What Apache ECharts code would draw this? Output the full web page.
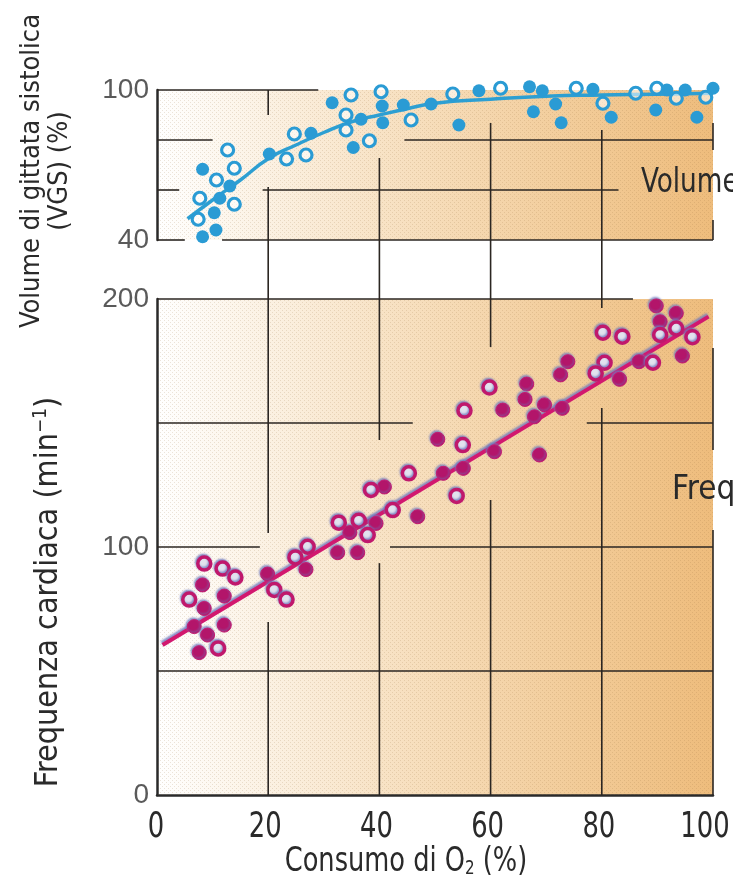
<!DOCTYPE html>
<html><head><meta charset="utf-8">
<script src="https://cdn.jsdelivr.net/npm/echarts@6/dist/echarts.min.js"></script>
<style>html,body{margin:0;padding:0;background:#fff}#c{width:733px;height:883px}</style>
</head><body><div id="c"></div>
<script>
// ---- data ----
const xTicks = [0, 20, 40, 60, 80, 100];
const vgsTicks = [40, 100];
const hrTicks = [0, 100, 200];

const vgsFilled = [[8.2,41.3],[10.6,44],[10.3,50.9],[11.3,56.7],[13.1,61.6],[8.2,68.3],[20.2,74.4],[27.7,82.7],[35.3,77],[36.7,88.3],[40.6,86.9],[40.5,93.6],[44.3,94],[31.5,94.9],[49.3,94.4],[54.3,86],[57.9,99.7],[67,101.3],[69.3,99.7],[71.7,94.4],[67.7,91.3],[72.7,86.9],[78.4,100.3],[81.7,89.1],[89.7,92],[91.7,100],[95,100],[97.1,89.1],[100,100.7]];
const vgsOpen = [[7.4,48.3],[13.9,54.3],[7.7,56.7],[10.7,64],[13.9,68.7],[12.7,76],[23.3,72.4],[26.8,74],[24.7,82.4],[38.2,79.7],[34,84],[34,90],[45.7,88],[34.9,98],[40.3,99.3],[53.2,98.4],[61.8,100.7],[75.4,100.7],[80.2,94.7],[86.1,98.7],[89.9,100.7],[93.4,96.7],[98.7,97.1]];
const vgsCurve = [[5.5,48.5],[10,56],[15,64],[20,72.5],[25,78],[30,83],[35,87.3],[40,90],[45,92.5],[50,94.7],[60,96.3],[70,97.5],[80,98],[90,98.3],[100,98.7]];

const hrFilled = [[89.8,197.2],[93.4,194.2],[90.5,190.8],[94.5,177],[86.7,174.7],[83.2,167.6],[73.9,174.7],[72.6,169.4],[66.5,165.7],[66.2,159.5],[69.7,157.3],[72.9,155.9],[67.9,152.5],[62.2,155.2],[50.5,143.4],[60.7,138.4],[68.8,137.1],[51.5,129.7],[55.1,131.7],[40.9,124.2],[46.9,112.2],[39.4,109.5],[34.7,105.8],[32.5,97.7],[36.1,97.7],[26.8,90.9],[19.9,89.1],[8.2,84.7],[12.1,80.2],[8.5,75.2],[6.7,67.9],[12.1,68.5],[9.1,64.5],[7.6,57.4]];
const hrOpen = [[93.4,188.1],[90.5,185.5],[96.3,184.6],[80.2,186.4],[83.7,184.8],[89.2,174.3],[80.5,174.3],[78.9,170],[59.8,164.3],[55.3,155],[55,141.1],[53.9,120.6],[45.3,129.7],[38.5,123],[42.4,114.9],[32.7,109.8],[36.3,110.6],[37.9,104.8],[27.1,100.1],[24.9,95.8],[8.5,93.3],[11.8,91.3],[14.1,87.7],[5.8,78.8],[11,59.1],[21.1,82.7],[23.3,78.8]];
const hrLine = [[1,60.5],[99.2,192.9]];

// ---- styling ----
const NARROW = '"Liberation Sans Narrow","DejaVu Sans Condensed","Roboto Condensed",sans-serif';
const WIDE = '"Liberation Sans","DejaVu Sans",sans-serif';
const BLUE = '#2a9bd4';
const MAG = '#b3156a';
const INK = '#2a2a2a';
const bgGrad = () => ({type:'linear',x:0,y:0,x2:1,y2:0,colorStops:[
  {offset:0,color:'#ffffff'},{offset:0.12,color:'#fdf7ee'},{offset:0.4,color:'#f8e3c6'},
  {offset:0.7,color:'#f3cf9f'},{offset:1,color:'#eebc7c'}]});

const chart = echarts.init(document.getElementById('c'), null, {renderer:'canvas'});
const axisLineStyle = {color:'#2a2a2a', width:2.5};
const option = {
  backgroundColor:'#ffffff',
  animation:false,
  grid:[
    {left:157, top:90, width:556, height:150, show:true, backgroundColor:bgGrad(), borderWidth:0, containLabel:false, outerBoundsMode:'none'},
    {left:157, top:299, width:556, height:496, show:true, backgroundColor:bgGrad(), borderWidth:0, containLabel:false, outerBoundsMode:'none'}
  ],
  xAxis:[
    {gridIndex:0, type:'value', min:0, max:100, interval:20, axisLine:{show:false}, axisTick:{show:false}, axisLabel:{show:false}, splitLine:{show:false}},
    {gridIndex:1, type:'value', min:0, max:100, interval:20, axisLine:{show:true, onZero:false, lineStyle:axisLineStyle}, axisTick:{show:false},
     axisLabel:{show:false}, splitLine:{show:false}}
  ],
  yAxis:[
    {gridIndex:0, type:'value', min:40, max:100, interval:20, axisLine:{show:true, onZero:false, lineStyle:axisLineStyle}, axisTick:{show:false},
     axisLabel:{customValues:vgsTicks, fontFamily:WIDE, fontSize:28, color:'#5a5a5a', margin:8}, splitLine:{show:false}},
    {gridIndex:1, type:'value', min:0, max:200, interval:50, axisLine:{show:true, onZero:false, lineStyle:axisLineStyle}, axisTick:{show:false},
     axisLabel:{customValues:hrTicks, fontFamily:WIDE, fontSize:28, color:'#5a5a5a', margin:8}, splitLine:{show:false}}
  ],
  series:[
    {type:'line', xAxisIndex:0, yAxisIndex:0, data:vgsCurve, smooth:true, showSymbol:false, z:4,
     lineStyle:{color:'#2d9fd2', width:3.5}},
    {type:'scatter', xAxisIndex:0, yAxisIndex:0, data:vgsFilled, symbolSize:13, clip:false, z:5,
     itemStyle:{color:BLUE, opacity:1}},
    {type:'scatter', xAxisIndex:0, yAxisIndex:0, data:vgsOpen, symbolSize:12, clip:false, z:5,
     itemStyle:{color:'rgba(255,255,255,0.55)', borderColor:BLUE, borderWidth:3.2, opacity:1}},
    {type:'line', xAxisIndex:1, yAxisIndex:1, data:hrLine, showSymbol:false, z:4,
     lineStyle:{color:'#d2186f', width:4, shadowColor:'rgba(110,120,190,0.8)', shadowBlur:2, shadowOffsetX:-1, shadowOffsetY:-2}},
    {type:'scatter', xAxisIndex:1, yAxisIndex:1, data:hrFilled, symbolSize:14, clip:false, z:5,
     itemStyle:{color:MAG, borderColor:'#c41b70', borderWidth:1, shadowColor:'rgba(110,120,190,0.8)', shadowBlur:2, shadowOffsetX:-1, shadowOffsetY:-1.5, opacity:1}},
    {type:'scatter', xAxisIndex:1, yAxisIndex:1, data:hrOpen, symbolSize:13, clip:false, z:5,
     itemStyle:{color:'#e2e2ee', borderColor:'#c0186c', borderWidth:3.5, shadowColor:'rgba(110,120,190,0.8)', shadowBlur:2, shadowOffsetX:-1, shadowOffsetY:-1.5, opacity:1}}
  ]
};
chart.setOption(option);

// ---- decorative grid segments (in data units, converted by the library) ----
const topSegs = [[[0,100],[29,100]],[[0,80],[10,80]],[[44.5,80],[100,80]],[[0,60],[4,60]],[[19,60],[83,60]],
  [[0,40],[5,40]],[[11.7,40],[100,40]],[[100,86.8],[100,76]],[[100,48],[100,40]],[[20,100],[20,90]]];
const botSegs = [[[0,200],[85.6,200]],[[20,69.8],[20,0]],[[40,93.5],[40,0]],[[60,119],[60,0]],[[80,156],[80,0]],
  [[100,180.2],[100,139.1]],[[100,106.9],[100,0]],[[0,150],[46,150]],[[77.3,150],[100,150]],
  [[0,100],[18.5,100]],[[41.9,100],[100,100]],[[0,50],[100,50]]];
const crossSegs = [[[20,61.2],[20,105.6]],[[40,72.8],[40,143.1]],[[60,86.8],[60,180.6]],[[80,84],[80,196.4]]];

const g = [];
const lineEl = (p1, p2) => ({type:'line', z:1, silent:true,
  shape:{x1:p1[0], y1:p1[1], x2:p2[0], y2:p2[1]}, style:{stroke:'#2b2622', lineWidth:1.6}});
topSegs.forEach(s => g.push(lineEl(chart.convertToPixel({gridIndex:0}, s[0]), chart.convertToPixel({gridIndex:0}, s[1]))));
botSegs.forEach(s => g.push(lineEl(chart.convertToPixel({gridIndex:1}, s[0]), chart.convertToPixel({gridIndex:1}, s[1]))));
crossSegs.forEach(s => g.push(lineEl(chart.convertToPixel({gridIndex:0}, s[0]), chart.convertToPixel({gridIndex:1}, s[1]))));

// halftone texture
const pc = document.createElement('canvas'); pc.width = 4; pc.height = 4;
const pctx = pc.getContext('2d'); pctx.fillStyle = 'rgba(150,110,60,0.18)'; pctx.fillRect(0,0,1,1); pctx.fillRect(2,2,1,1);
[[0,[0,100],[100,40]],[1,[0,200],[100,0]]].forEach(([gi,a,b]) => {
  const p1 = chart.convertToPixel({gridIndex:gi}, a), p2 = chart.convertToPixel({gridIndex:gi}, b);
  g.push({type:'rect', z:0.5, silent:true, shape:{x:p1[0], y:p1[1], width:p2[0]-p1[0], height:p2[1]-p1[1]},
    style:{fill:{image:pc, repeat:'repeat'}}});
});

// x tick labels (positions from the axis scale)
xTicks.forEach(v => {
  const p = chart.convertToPixel({gridIndex:1}, [v, 0]);
  const dx = v === 100 ? -8 : (v === 0 ? -1 : -3);
  g.push({type:'text', z:6, x:p[0] + dx, y:p[1] + 33, scaleX:0.82,
    style:{text:String(v), font:'35px ' + NARROW, fill:INK, align:'center', verticalAlign:'middle'}});
});

// texts
g.push({type:'text', z:6, x:46, y:171, rotation:Math.PI/2,
  style:{text:'Volume di gittata sistolica\n(VGS) (%)', font:'27px ' + NARROW, fill:INK, align:'center', verticalAlign:'middle', lineHeight:28}});
g.push({type:'text', z:6, x:49, y:592, rotation:Math.PI/2, scaleX:1.0,
  style:{text:'Frequenza cardiaca (min{sup|−1})', font:'32px ' + NARROW, fill:INK, align:'center', verticalAlign:'middle',
    rich:{sup:{font:'19px ' + NARROW, fill:INK, verticalAlign:'top', lineHeight:34}}}});
g.push({type:'text', z:6, x:406, y:862, scaleX:0.84,
  style:{text:'Consumo di O{sub|2} (%)', font:'34px ' + NARROW, fill:INK, align:'center', verticalAlign:'middle',
    rich:{sub:{font:'20px ' + NARROW, fill:INK, verticalAlign:'bottom', lineHeight:32}}}});
g.push({type:'text', z:6, x:641, y:183, scaleX:0.86,
  style:{text:'Volume', font:'34px ' + NARROW, fill:INK, align:'left', verticalAlign:'middle'}});
g.push({type:'text', z:6, x:672, y:490,
  style:{text:'Freq', font:'33px ' + NARROW, fill:INK, align:'left', verticalAlign:'middle'}});

chart.setOption({graphic:{elements:g}});
</script></body></html>
